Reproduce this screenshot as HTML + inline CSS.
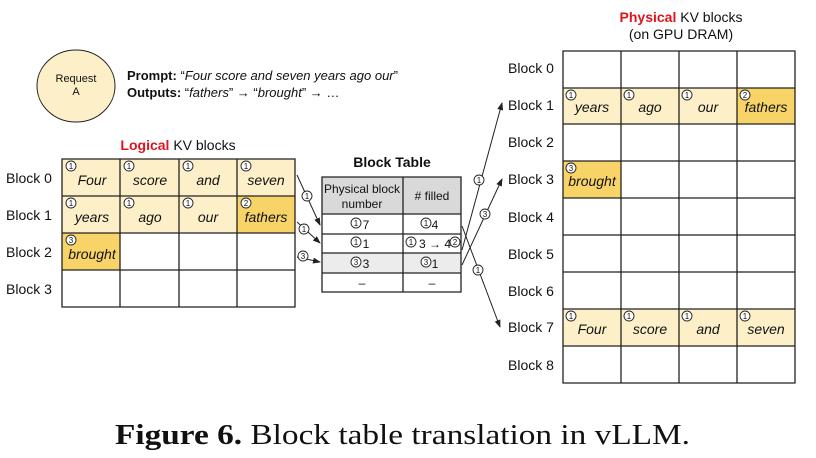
<!DOCTYPE html>
<html><head><meta charset="utf-8"><style>
html,body{margin:0;padding:0;background:#fff;}
svg{display:block;font-family:"Liberation Sans",sans-serif;}
.l{font-size:14px;fill:#111;}
.w{font-size:14px;font-style:italic;fill:#111;}
.g{fill:none;stroke:#222;stroke-width:1.3;}
.k circle{fill:#fff;stroke:#222;stroke-width:0.9;}
.k text{font-size:8px;fill:#111;text-anchor:middle;}
</style></head><body>
<svg width="816" height="458" viewBox="0 0 816 458" xmlns="http://www.w3.org/2000/svg">
<defs><marker id="a" markerWidth="8" markerHeight="8" refX="7" refY="4" orient="auto" markerUnits="userSpaceOnUse"><path d="M0,1 L8,4 L0,7 z" fill="#222"/></marker></defs>

<!-- Request -->
<ellipse cx="76" cy="86" rx="39" ry="36" fill="#fdf0c8" stroke="#222" stroke-width="1"/>
<text x="76" y="82" text-anchor="middle" font-size="11" fill="#111">Request</text>
<text x="76" y="95" text-anchor="middle" font-size="11" fill="#111">A</text>
<text x="127" y="80" font-size="13" fill="#111"><tspan font-weight="bold">Prompt:</tspan> “<tspan font-style="italic">Four score and seven years ago our</tspan>”</text>
<text x="127" y="97" font-size="13" fill="#111"><tspan font-weight="bold">Outputs:</tspan> “<tspan font-style="italic">fathers</tspan>” → “<tspan font-style="italic">brought</tspan>” → …</text>

<!-- Logical -->
<text x="178" y="150" text-anchor="middle" font-size="14" fill="#111"><tspan fill="#e0141e" font-weight="bold">Logical</tspan> KV blocks</text>
<rect x="62" y="159" width="233" height="37" fill="#fdf0c8"/>
<rect x="62" y="196" width="175" height="37" fill="#fdf0c8"/>
<rect x="237" y="196" width="58" height="37" fill="#f8d468"/>
<rect x="62" y="233" width="58" height="37" fill="#f8d468"/>
<path class="g" d="M62,159H295V307H62Z M62,196H295 M62,233H295 M62,270H295 M120,159V307 M179,159V307 M237,159V307"/>
<text class="l" x="6" y="183">Block 0</text><text class="l" x="6" y="220">Block 1</text><text class="l" x="6" y="257">Block 2</text><text class="l" x="6" y="294">Block 3</text>
<g class="k">
<circle cx="71" cy="166" r="5"/><text x="71" y="169">1</text>
<circle cx="129" cy="166" r="5"/><text x="129" y="169">1</text>
<circle cx="188" cy="166" r="5"/><text x="188" y="169">1</text>
<circle cx="246" cy="166" r="5"/><text x="246" y="169">1</text>
<circle cx="71" cy="203" r="5"/><text x="71" y="206">1</text>
<circle cx="129" cy="203" r="5"/><text x="129" y="206">1</text>
<circle cx="188" cy="203" r="5"/><text x="188" y="206">1</text>
<circle cx="246" cy="203" r="5"/><text x="246" y="206">2</text>
<circle cx="71" cy="240" r="5"/><text x="71" y="243">3</text>
</g>
<g class="w" text-anchor="middle"><text x="92" y="185">Four</text><text x="150" y="185">score</text><text x="208" y="185">and</text><text x="266" y="185">seven</text>
<text x="92" y="222">years</text><text x="150" y="222">ago</text><text x="208" y="222">our</text><text x="266" y="222">fathers</text><text x="92" y="259">brought</text></g>

<!-- arrows logical->table -->
<line x1="297" y1="175" x2="320" y2="225" stroke="#222" stroke-width="1" marker-end="url(#a)"/>
<line x1="297" y1="222" x2="320" y2="243" stroke="#222" stroke-width="1" marker-end="url(#a)"/>
<line x1="297" y1="257" x2="320" y2="262" stroke="#222" stroke-width="1" marker-end="url(#a)"/>
<g class="k"><circle cx="307" cy="196" r="5"/><text x="307" y="199">1</text>
<circle cx="304" cy="229" r="5"/><text x="304" y="232">1</text>
<circle cx="303" cy="256" r="5"/><text x="303" y="259">3</text></g>

<!-- Block table -->
<text x="392" y="167" text-anchor="middle" font-size="14" font-weight="bold" fill="#111">Block Table</text>
<rect x="322" y="177" width="139" height="37" fill="#d9d9d9"/>
<rect x="322" y="253" width="139" height="20" fill="#ececec"/>
<path class="g" d="M322,177H461V292H322Z M322,214H461 M322,234H461 M322,253H461 M322,273H461 M403,177V292"/>
<g font-size="12" fill="#111" text-anchor="middle"><text x="362" y="193">Physical block</text><text x="362" y="208">number</text><text x="432" y="200">#&#160;filled</text>
<text x="366" y="229">7</text><text x="435" y="229">4</text><text x="366" y="248">1</text><text x="435" y="248">3 → 4</text>
<text x="366" y="268">3</text><text x="435" y="268">1</text><text x="362" y="287">–</text><text x="432" y="287">–</text></g>
<g class="k">
<circle cx="356" cy="223" r="5"/><text x="356" y="226">1</text>
<circle cx="426" cy="223" r="5"/><text x="426" y="226">1</text>
<circle cx="356" cy="242" r="5"/><text x="356" y="245">1</text>
<circle cx="411" cy="242" r="5"/><text x="411" y="245">1</text>
<circle cx="455" cy="242" r="5"/><text x="455" y="245">2</text>
<circle cx="356" cy="262" r="5"/><text x="356" y="265">3</text>
<circle cx="426" cy="262" r="5"/><text x="426" y="265">3</text>
</g>

<!-- arrows table->physical -->
<line x1="462" y1="226" x2="500" y2="327" stroke="#222" stroke-width="1" marker-end="url(#a)"/>
<line x1="462" y1="250" x2="502" y2="103" stroke="#222" stroke-width="1" marker-end="url(#a)"/>
<line x1="462" y1="265" x2="502" y2="179" stroke="#222" stroke-width="1" marker-end="url(#a)"/>
<g class="k"><circle cx="479" cy="180" r="5"/><text x="479" y="183">1</text>
<circle cx="485" cy="214" r="5"/><text x="485" y="217">3</text>
<circle cx="478" cy="270" r="5"/><text x="478" y="273">1</text></g>

<!-- Physical -->
<text x="681" y="22" text-anchor="middle" font-size="14" fill="#111"><tspan fill="#e0141e" font-weight="bold">Physical</tspan> KV blocks</text>
<text x="681" y="39" text-anchor="middle" font-size="14" fill="#111">(on GPU DRAM)</text>
<rect x="563" y="88" width="174" height="36" fill="#fdf0c8"/>
<rect x="737" y="88" width="58" height="36" fill="#f8d468"/>
<rect x="563" y="161" width="58" height="37" fill="#f8d468"/>
<rect x="563" y="309" width="232" height="37" fill="#fdf0c8"/>
<path class="g" d="M563,51H795V383H563Z M563,88H795 M563,124H795 M563,161H795 M563,198H795 M563,235H795 M563,272H795 M563,309H795 M563,346H795 M621,51V383 M679,51V383 M737,51V383"/>
<g class="l"><text x="508" y="73">Block 0</text><text x="508" y="110">Block 1</text><text x="508" y="147">Block 2</text><text x="508" y="184">Block 3</text><text x="508" y="222">Block 4</text><text x="508" y="259">Block 5</text><text x="508" y="296">Block 6</text><text x="508" y="332">Block 7</text><text x="508" y="370">Block 8</text></g>
<g class="k">
<circle cx="571" cy="95" r="5"/><text x="571" y="98">1</text>
<circle cx="629" cy="95" r="5"/><text x="629" y="98">1</text>
<circle cx="687" cy="95" r="5"/><text x="687" y="98">1</text>
<circle cx="745" cy="95" r="5"/><text x="745" y="98">2</text>
<circle cx="571" cy="168" r="5"/><text x="571" y="171">3</text>
<circle cx="571" cy="316" r="5"/><text x="571" y="319">1</text>
<circle cx="629" cy="316" r="5"/><text x="629" y="319">1</text>
<circle cx="687" cy="316" r="5"/><text x="687" y="319">1</text>
<circle cx="745" cy="316" r="5"/><text x="745" y="319">1</text>
</g>
<g class="w" text-anchor="middle"><text x="592" y="112">years</text><text x="650" y="112">ago</text><text x="708" y="112">our</text><text x="766" y="112">fathers</text><text x="592" y="186">brought</text>
<text x="592" y="334">Four</text><text x="650" y="334">score</text><text x="708" y="334">and</text><text x="766" y="334">seven</text></g>

<!-- Caption -->
<text x="115" y="444" font-family="Liberation Serif,serif" font-size="28" fill="#111" textLength="575" lengthAdjust="spacingAndGlyphs"><tspan font-weight="bold">Figure 6.</tspan> Block table translation in vLLM.</text>
</svg>
</body></html>
